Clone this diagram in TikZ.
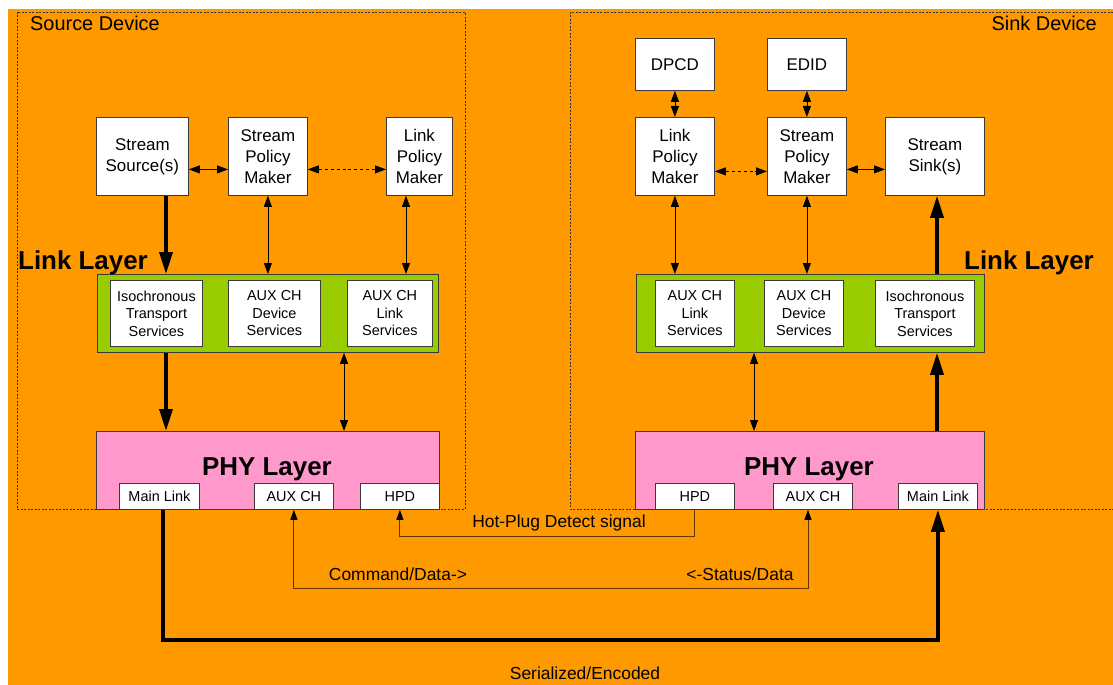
\documentclass[tikz,border=0pt]{standalone}
\usepackage{fontspec}
\setmainfont{Liberation Sans}
\usetikzlibrary{arrows.meta}
\definecolor{bgorange}{HTML}{FF9900}
\definecolor{lgreen}{HTML}{99CC00}
\definecolor{lpink}{HTML}{FF99CC}
\definecolor{edge}{HTML}{3A3A3A}
\definecolor{brn}{HTML}{663300}
\tikzset{
  blk/.style={draw=edge, fill=white, line width=0.8bp, align=center, inner sep=0pt, anchor=north west, font=\fontsize{17}{21}\selectfont},
  sblk/.style={blk, font=\fontsize{14.5}{17.5}\selectfont},
  layerbox/.style={draw=edge, line width=0.8bp, anchor=north west, inner sep=0pt},
  devbox/.style={draw=black!80, line width=0.7bp, dash pattern=on 2bp off 1.5bp},
  thn/.style={draw=black, line width=0.8bp, arrows={Triangle[length=11bp,width=8bp]-Triangle[length=11bp,width=8bp]}},
  thk/.style={draw=black, line width=3.5bp, arrows={-Triangle[length=22bp,width=13bp]}},
  bline/.style={draw=brn, line width=0.9bp},
  btip/.style={arrows={-Triangle[length=10bp,width=7bp,color=black]}},
  btips/.style={arrows={Triangle[length=10bp,width=7bp,color=black]-Triangle[length=10bp,width=7bp,color=black]}},
  lbl/.style={inner sep=0pt, font=\fontsize{17.5}{20}\selectfont},
  dlbl/.style={inner sep=0pt, font=\fontsize{20}{23}\selectfont},
  llbl/.style={inner sep=0pt, font=\fontsize{26}{30}\selectfont\bfseries},
}
\begin{document}
\begin{tikzpicture}[x=1bp,y=-1bp]
\useasboundingbox (0,0) rectangle (1113,685);
\fill[white] (0,0) rectangle (1113,685);
\fill[bgorange] (8,9) rectangle (1113,685);

% device frames
\draw[devbox] (17,12) rectangle (465,509);
\draw[devbox] (1113,12) -- (570,12) -- (570,509) -- (1113,509);
\node[dlbl, anchor=west] (srcdev) at (30,23) {Source Device};
\node[dlbl, anchor=east] (snkdev) at (1097,23) {Sink Device};

% ---------- Source side ----------
\node[blk, minimum width=92bp, minimum height=78bp] (ss) at (96,117) {Stream\\Source(s)};
\node[blk, minimum width=79bp, minimum height=78bp] (spm) at (228,117) {Stream\\Policy\\Maker};
\node[blk, minimum width=66bp, minimum height=78bp] (lpm) at (386,117) {Link\\Policy\\Maker};

\node[layerbox, fill=lgreen, minimum width=341bp, minimum height=78bp] (sgreen) at (97,274) {};
\node[sblk, minimum width=92bp, minimum height=66bp] (siso) at (110,280) {Isochronous\\Transport\\Services};
\node[sblk, minimum width=92bp, minimum height=66bp] (sauxd) at (228,280) {AUX CH\\Device\\Services};
\node[sblk, minimum width=85bp, minimum height=66bp] (sauxl) at (347,280) {AUX CH\\Link\\Services};
\node[llbl, anchor=west] (sll) at (18,263) {Link Layer};

\node[layerbox, fill=lpink, minimum width=343bp, minimum height=78bp] (sphy) at (96,431) {};
\node[llbl] (sphyl) at (267,469) {PHY Layer};
\node[sblk, minimum width=80bp, minimum height=26bp] (sml) at (119,483) {Main Link};
\node[sblk, minimum width=79bp, minimum height=26bp] (saux) at (254,483) {AUX CH};
\node[sblk, minimum width=79bp, minimum height=26bp] (shpd) at (360,483) {HPD};

% ---------- Sink side ----------
\node[blk, minimum width=79bp, minimum height=52bp] (dpcd) at (635,38) {DPCD};
\node[blk, minimum width=79bp, minimum height=52bp] (edid) at (767,38) {EDID};
\node[blk, minimum width=79bp, minimum height=78bp] (klpm) at (635,117) {Link\\Policy\\Maker};
\node[blk, minimum width=79bp, minimum height=78bp] (kspm) at (767,117) {Stream\\Policy\\Maker};
\node[blk, minimum width=99bp, minimum height=78bp] (kss) at (885,117) {Stream\\Sink(s)};

\node[layerbox, fill=lgreen, minimum width=348bp, minimum height=78bp] (kgreen) at (636,274) {};
\node[sblk, minimum width=79bp, minimum height=66bp] (kauxl) at (655,280) {AUX CH\\Link\\Services};
\node[sblk, minimum width=79bp, minimum height=66bp] (kauxd) at (764,280) {AUX CH\\Device\\Services};
\node[sblk, minimum width=99bp, minimum height=66bp] (kiso) at (875,280) {Isochronous\\Transport\\Services};
\node[llbl, anchor=west] (kll) at (964,263) {Link Layer};

\node[layerbox, fill=lpink, minimum width=349bp, minimum height=78bp] (kphy) at (635,431) {};
\node[llbl] (kphyl) at (809,469) {PHY Layer};
\node[sblk, minimum width=79bp, minimum height=26bp] (khpd) at (655,483) {HPD};
\node[sblk, minimum width=79bp, minimum height=26bp] (kaux) at (773,483) {AUX CH};
\node[sblk, minimum width=79bp, minimum height=26bp] (kml) at (898,483) {Main Link};

% ---------- coordinates for connector columns ----------
\coordinate (cs1) at (166,0);
\coordinate (cs2) at (406,0);
\coordinate (cs3) at (344,0);
\coordinate (ck1) at (754,0);
\coordinate (ck2) at (937,0);
\coordinate (cml) at (163,0);
\coordinate (ckaux) at (808,0);
\coordinate (yhpd) at (0,536);
\coordinate (yaux) at (0,588);
\coordinate (yml) at (0,640);

% ---------- Source connectors ----------
\draw[thn] ([yshift=-13bp]ss.east) -- ([yshift=-13bp]ss.east -| spm.west);
\draw[thn, dashed] ([yshift=-13bp]spm.east) -- ([yshift=-13bp]spm.east -| lpm.west);
\draw[thk] (ss.south -| cs1) -- (sgreen.north -| cs1);
\draw[thn] (spm.south) -- (spm.south |- sgreen.north);
\draw[thn] (lpm.south -| cs2) -- (sgreen.north -| cs2);
\draw[thk] (sgreen.south -| cs1) -- (sphy.north -| cs1);
\draw[thn] (sgreen.south -| cs3) -- (sphy.north -| cs3);

% ---------- Sink connectors ----------
\draw[thn] (dpcd.south) -- (klpm.north);
\draw[thn] (edid.south) -- (kspm.north);
\draw[thn, dashed] ([yshift=-15bp]klpm.east) -- ([yshift=-15bp]klpm.east -| kspm.west);
\draw[thn] ([yshift=-13bp]kspm.east) -- ([yshift=-13bp]kspm.east -| kss.west);
\draw[thn] (klpm.south) -- (klpm.south |- kgreen.north);
\draw[thn] (kspm.south) -- (kspm.south |- kgreen.north);
\draw[thk] (kgreen.north -| ck2) -- (kss.south -| ck2);
\draw[thn] (kgreen.south -| ck1) -- (kphy.north -| ck1);
\draw[thk] (kphy.north -| ck2) -- (kgreen.south -| ck2);

% ---------- Bottom links ----------
\draw[bline, btip] (khpd.south) -- (khpd.south |- yhpd) -- (yhpd -| shpd.south) -- (shpd.south);
\draw[bline, btips] (saux.south) -- (saux.south |- yaux) -- (yaux -| ckaux) -- (kaux.south -| ckaux);
\draw[thk] (sml.south -| cml) -- (yml -| cml) -- (yml -| kml.south) -- (kml.south);

\node[lbl] (hpdl) at (559,523) {Hot-Plug Detect signal};
\node[lbl] (cmdl) at (398,574) {Command/Data->};
\node[lbl] (stl) at (740,574) {<-Status/Data};
\node[lbl] (serl) at (585,673) {Serialized/Encoded};
\end{tikzpicture}
\end{document}
